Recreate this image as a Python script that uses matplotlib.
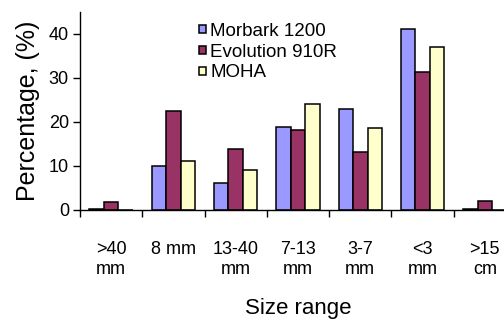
import matplotlib
matplotlib.use("Agg")
import matplotlib.pyplot as plt
import numpy as np

plt.rcParams['font.family'] = ['Liberation Sans', 'DejaVu Sans']

categories = [">40\nmm", "8 mm", "13-40\nmm", "7-13\nmm", "3-7\nmm", "<3\nmm", ">15\ncm"]
series_names = ["Morbark 1200", "Evolution 910R", "MOHA"]
morbark = [0.3, 10.0, 6.1, 18.9, 23.0, 41.1, 0.3]
evolution = [1.9, 22.5, 13.9, 18.2, 13.1, 31.3, 2.0]
moha = [0.0, 11.1, 9.2, 24.2, 18.6, 37.1, 0.0]
colors = ["#9999FF", "#993366", "#FFFFCC"]

W, H = 504, 327
fig = plt.figure(figsize=(W / 100, H / 100), dpi=100)
ax = fig.add_axes([80 / W, (327 - 210) / H, 436 / W, 198 / H])

x = np.arange(len(categories))
bw = 0.233
for i, (vals, name, c) in enumerate(zip([morbark, evolution, moha], series_names, colors)):
    ax.bar(x + (i - 1) * bw, vals, width=bw, color=c, edgecolor="black",
           linewidth=1.1, label=name)

ax.set_xlim(-0.5, len(categories) - 0.5)
ax.set_ylim(0, 45)
ax.set_yticks([0, 10, 20, 30, 40])
ax.set_xticks(np.arange(len(categories) + 1) - 0.5)
ax.set_xticklabels([])
ax.set_xticks(x, minor=True)
ax.set_xticklabels(categories, minor=True, fontsize=13, linespacing=1.3)
ax.tick_params(axis='x', which='minor', length=0, pad=22)
ax.tick_params(axis='x', which='major', length=5, width=1, direction='out')
ax.tick_params(axis='y', length=5, width=1, direction='out', labelsize=13, pad=3)

for s in ["top", "right"]:
    ax.spines[s].set_visible(False)
ax.spines["left"].set_linewidth(1)
ax.spines["bottom"].set_linewidth(1)

ax.set_ylabel("Percentage, (%)", fontsize=18, labelpad=6)
ax.set_xlabel("Size range", fontsize=16, labelpad=14)

leg = ax.legend(loc="upper left", bbox_to_anchor=(0.272, 0.945), frameon=False,
                fontsize=13.5, handlelength=0.38, handleheight=0.3,
                handletextpad=0.25, labelspacing=0.2, borderaxespad=0, borderpad=0)

fig.savefig("out.png", dpi=100)
